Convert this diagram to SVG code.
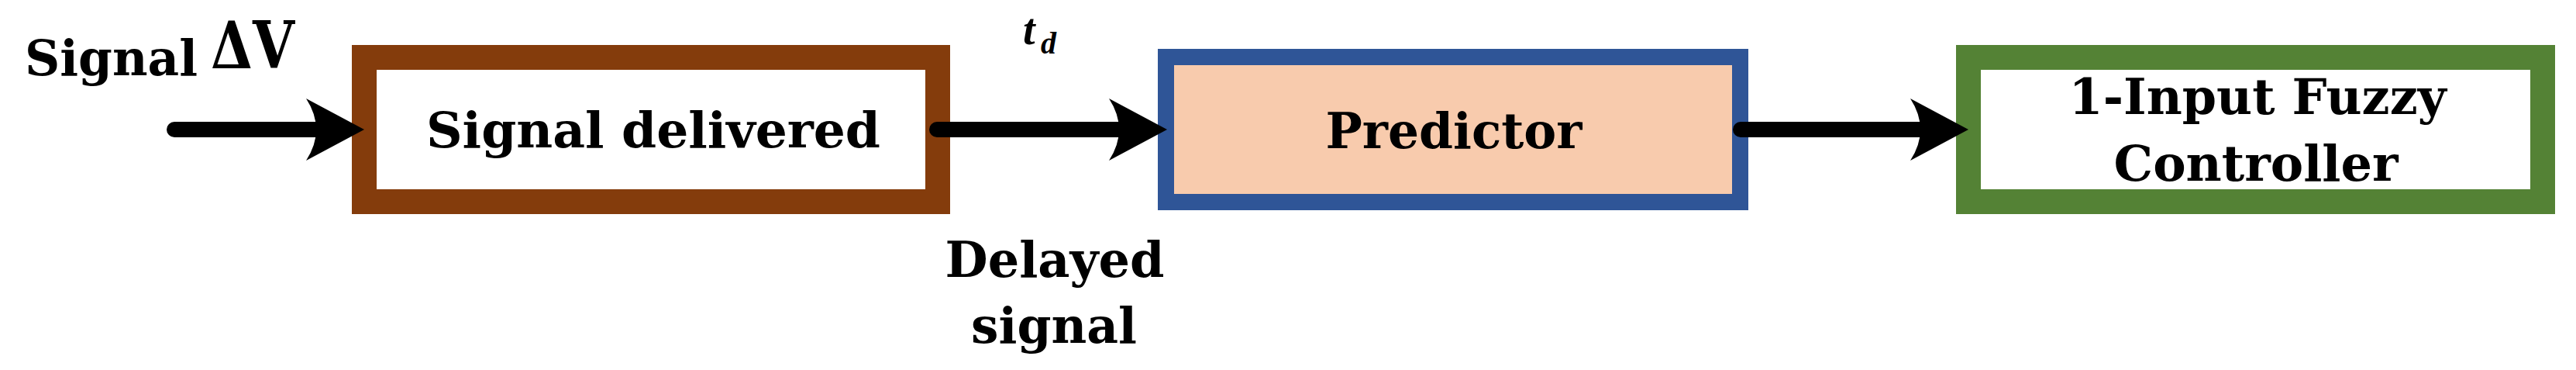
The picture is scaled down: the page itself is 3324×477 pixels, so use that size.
<svg xmlns="http://www.w3.org/2000/svg" width="3324" height="477" viewBox="0 0 3324 477">
<style>
.lbl{font-family:"DejaVu Serif","Liberation Serif",serif;font-weight:bold;font-size:64px;fill:#000}
.mid{text-anchor:middle}
.conn{fill:none;stroke:#000;stroke-width:20;stroke-linecap:round;marker-end:url(#ah)}
</style>
<defs>
<marker id="ah" markerUnits="userSpaceOnUse" markerWidth="80" markerHeight="80" refX="20" refY="40" orient="auto" overflow="visible">
<path d="M0,0 L75,40 L0,80 Q26,40 0,0 Z" fill="#000"/>
</marker>
</defs>
<rect width="3324" height="477" fill="#fff"/>
<g id="input-label">
<text class="lbl" x="32" y="97" textLength="223" lengthAdjust="spacingAndGlyphs">Signal</text>
<text class="lbl" x="272" y="88" font-size="85" style="font-size:85px" textLength="108" lengthAdjust="spacingAndGlyphs">ΔV</text>
</g>
<g id="signal-delivered">
<rect x="470" y="74" width="740" height="186" fill="#fff" stroke="#843C0C" stroke-width="32"/>
<text class="lbl mid" x="843" y="190" textLength="586" lengthAdjust="spacingAndGlyphs">Signal delivered</text>
</g>
<g id="td-label">
<text x="1320" y="57" style="font-family:'Liberation Serif',serif;font-weight:bold;font-style:italic;font-size:56px">t</text>
<text x="1343" y="69" style="font-family:'Liberation Serif',serif;font-weight:bold;font-style:italic;font-size:40px">d</text>
</g>
<g id="delayed-label">
<text class="lbl mid" x="1361" y="357" textLength="283" lengthAdjust="spacingAndGlyphs">Delayed</text>
<text class="lbl mid" x="1360" y="442" textLength="214" lengthAdjust="spacingAndGlyphs">signal</text>
</g>
<g id="predictor">
<rect x="1504.5" y="73.5" width="741" height="187" fill="#F8CBAD" stroke="#2F5597" stroke-width="21"/>
<text class="lbl mid" x="1876" y="191" textLength="331" lengthAdjust="spacingAndGlyphs">Predictor</text>
</g>
<g id="fuzzy-controller">
<rect x="2540" y="74" width="741" height="186" fill="#fff" stroke="#548235" stroke-width="32"/>
<text class="lbl mid" x="2913" y="147" textLength="487" lengthAdjust="spacingAndGlyphs">1-Input Fuzzy</text>
<text class="lbl mid" x="2911" y="233" textLength="367" lengthAdjust="spacingAndGlyphs">Controller</text>
</g>
<g id="connectors">
<path class="conn" d="M225,167 L415,167"/>
<path class="conn" d="M1209,167 L1451,167"/>
<path class="conn" d="M2246,167 L2485,167"/>
</g>
</svg>
